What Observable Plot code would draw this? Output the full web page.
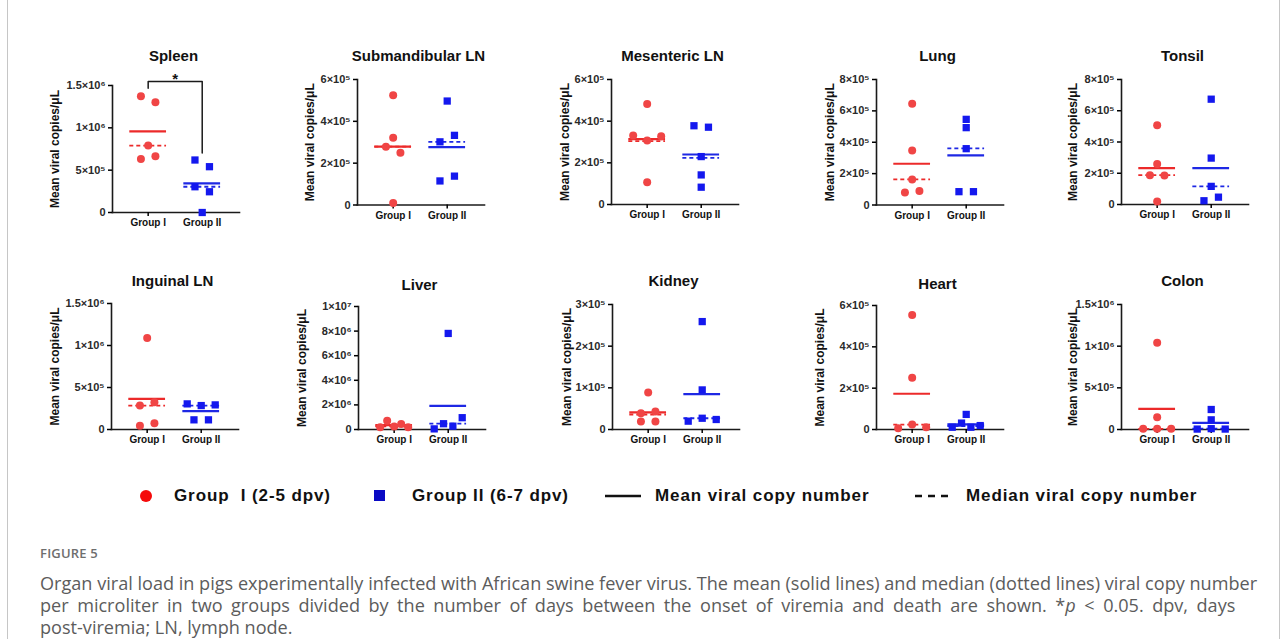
<!DOCTYPE html>
<html><head><meta charset="utf-8">
<script src="https://cdn.jsdelivr.net/npm/d3@7"></script>
<script src="https://cdn.jsdelivr.net/npm/@observablehq/plot@0.6"></script>
<style>
body{margin:0;background:#fff;}
#fig{position:relative;width:1288px;height:639px;overflow:hidden;font-family:"Liberation Sans",Arial,sans-serif;}
.frame{position:absolute;left:7px;top:-20px;width:1273px;height:700px;border:1px solid #c6c6c6;border-radius:6px;box-sizing:border-box;}
.panel{position:absolute;}
.title{position:absolute;transform:translate(-50%,-50%);font-weight:bold;font-size:15px;color:#111;white-space:nowrap;}
.leg{position:absolute;transform:translateY(-50%);font-weight:bold;font-size:17px;letter-spacing:0.9px;color:#111;white-space:pre;}
.sym{position:absolute;}
.cap{position:absolute;left:40px;font-family:"Open Sans",sans-serif;color:#5c5c5c;white-space:nowrap;}
</style></head><body><div id="fig"><div class="frame"></div></div>
<script>
// ---------- DATA ----------
const organs = ["Spleen","Submandibular LN","Mesenteric LN","Lung","Tonsil",
                "Inguinal LN","Liver","Kidney","Heart","Colon"];
const groups = ["Group I","Group II"];
const legendLabels = ["Group  I (2-5 dpv)","Group II (6-7 dpv)","Mean viral copy number","Median viral copy number"];
const yLabel = "Mean viral copies/μL";

// viral copies per μL, one array per organ (order = as plotted)
const groupI = [
  [1.374e6,1.303e6,0.79e6,0.632e6,0.663e6],
  [5.25e5,3.21e5,2.79e5,2.50e5,0.10e5],
  [4.82e5,3.31e5,3.07e5,3.28e5,1.07e5],
  [6.45e5,3.48e5,1.63e5,0.79e5,0.89e5],
  [5.07e5,2.59e5,1.88e5,1.86e5,0.19e5],
  [10.88e5,2.85e5,3.24e5,0.44e5,0.75e5],
  [0.19e6,0.71e6,0.25e6,0.44e6,0.19e6],
  [0.89e5,0.39e5,0.43e5,0.19e5,0.19e5],
  [5.54e5,2.50e5,0.06e5,0.24e5,0.11e5],
  [1.04e6,0.148e6,0.008e6,0.008e6,0.008e6]
];
const groupII = [
  [0.62e6,0.541e6,0.304e6,0.245e6,0],
  [4.97e5,3.02e5,3.33e5,1.15e5,1.38e5],
  [3.78e5,3.71e5,2.30e5,1.42e5,0.83e5],
  [5.46e5,4.93e5,3.59e5,0.85e5,0.85e5],
  [6.74e5,2.97e5,1.16e5,0.24e5,0.47e5],
  [3.05e5,2.85e5,2.93e5,1.15e5,1.15e5],
  [7.81e6,0.05e6,0.47e6,0.27e6,0.96e6],
  [2.59e5,0.95e5,0.20e5,0.27e5,0.24e5],
  [0.73e5,0.11e5,0.31e5,0.11e5,0.19e5],
  [0.24e6,0.116e6,0.005e6,0.01e6,0.005e6]
];
const meanI   = [0.959e6,2.79e5,3.14e5,2.63e5,2.33e5,3.64e5,0.36e6,0.41e5,1.73e5,0.248e6];
const medianI = [0.79e6,2.79e5,3.04e5,1.63e5,1.88e5,2.85e5,0.25e6,0.36e5,0.24e5,0.008e6];
const meanII   = [0.343e6,2.77e5,2.40e5,3.16e5,2.33e5,2.18e5,1.92e6,0.85e5,0.25e5,0.08e6];
const medianII = [0.304e6,3.02e5,2.24e5,3.61e5,1.16e5,2.85e5,0.47e6,0.27e5,0.17e5,0.01e6];

const yTicks = [
  [0,5e5,1e6,1.5e6],[0,2e5,4e5,6e5],[0,2e5,4e5,6e5],[0,2e5,4e5,6e5,8e5],[0,2e5,4e5,6e5,8e5],
  [0,5e5,1e6,1.5e6],[0,2e6,4e6,6e6,8e6,1e7],[0,1e5,2e5,3e5],[0,2e5,4e5,6e5],[0,5e5,1e6,1.5e6]
];
const yTickLabels = [
  ["0","5×10⁵","1×10⁶","1.5×10⁶"],["0","2×10⁵","4×10⁵","6×10⁵"],["0","2×10⁵","4×10⁵","6×10⁵"],
  ["0","2×10⁵","4×10⁵","6×10⁵","8×10⁵"],["0","2×10⁵","4×10⁵","6×10⁵","8×10⁵"],
  ["0","5×10⁵","1×10⁶","1.5×10⁶"],["0","2×10⁶","4×10⁶","6×10⁶","8×10⁶","1×10⁷"],
  ["0","1×10⁵","2×10⁵","3×10⁵"],["0","2×10⁵","4×10⁵","6×10⁵"],["0","5×10⁵","1×10⁶","1.5×10⁶"]
];
// significance annotations
const sigOrgans = ["Spleen"];
const sigLabels = ["*"];

// ---------- LAYOUT (positions only) ----------
const layout = [
  {ax:112, top:85,  bottom:212, lab:57, ty:55},
  {ax:357, top:78.5,bottom:204, lab:47, ty:55},
  {ax:611, top:79,  bottom:204, lab:46, ty:55},
  {ax:876, top:78.5,bottom:204, lab:46, ty:55},
  {ax:1121,top:79,  bottom:204, lab:48, ty:55},
  {ax:111, top:303, bottom:429, lab:56, ty:280},
  {ax:358, top:306, bottom:429, lab:56, ty:284},
  {ax:612, top:304, bottom:429, lab:45, ty:280},
  {ax:876, top:305, bottom:429, lab:56, ty:283},
  {ax:1121,top:304, bottom:429, lab:48, ty:280}
];
const RED_PT = "#f04545", RED_LN = "#ec2a2a", BLUE_PT = "#1418ee", BLUE_LN = "#1e28e4";
const fig = document.getElementById("fig");

// horizontal spreading of overlapping points (scatter-dot style)
function spread(vals, pxPerVal) {
  const idx = d3.range(vals.length).sort((a, b) => vals[b] - vals[a]);
  const clusters = []; let cur = [idx[0]];
  for (let k = 1; k < idx.length; k++) {
    if ((vals[idx[k - 1]] - vals[idx[k]]) * pxPerVal < 7.5) cur.push(idx[k]);
    else { clusters.push(cur); cur = [idx[k]]; }
  }
  clusters.push(cur);
  const offs = new Array(vals.length).fill(0);
  for (const c of clusters) {
    c.sort((a, b) => a - b);
    const n = c.length, sp = n > 1 ? Math.min(14.5, 28 / (n - 1)) : 0;
    c.forEach((j, s) => offs[j] = (s - (n - 1) / 2) * sp);
  }
  return offs;
}

organs.forEach((organ, i) => {
  const L = layout[i];
  const mL = 75, mR = 12, mT = 30, mB = 28;
  const plotW = 127, plotH = L.bottom - L.top;
  const ymax = yTicks[i][yTicks[i].length - 1];
  const pxPerVal = plotH / ymax;
  const xDom = [0.34, 2.69];
  const pxPerUnit = plotW / (xDom[1] - xDom[0]);
  const ptsI = [], ptsII = [];
  [groupI[i], groupII[i]].forEach((vals, g) => {
    const offs = spread(vals, pxPerVal);
    vals.forEach((v, k) => (g ? ptsII : ptsI).push({x: g + 1 + offs[k] / pxPerUnit, v}));
  });
  const hw = 0.34;
  const means = [{g:1, m:meanI[i], c:RED_LN}, {g:2, m:meanII[i], c:BLUE_LN}];
  const medians = [{g:1, m:medianI[i], c:RED_LN}, {g:2, m:medianII[i], c:BLUE_LN}];
  const tickMap = new Map(yTicks[i].map((t, k) => [t, yTickLabels[i][k]]));

  const marks = [
    Plot.frame({anchor: "left", stroke: "#1a1a1a", strokeWidth: 1.6}),
    Plot.frame({anchor: "bottom", stroke: "#1a1a1a", strokeWidth: 1.6}),
    Plot.axisY({ticks: yTicks[i], tickFormat: d => tickMap.get(d), tickSize: 4, tickPadding: 3,
      fontSize: 11, fontWeight: "bold", strokeWidth: 1.5, label: null, fill: "#2a2a2a"}),
    Plot.axisX({ticks: [1, 2], tickFormat: d => groups[d - 1], tickSize: 4, tickPadding: 2.5,
      fontSize: 10, fontWeight: "bold", strokeWidth: 1.5, label: null, fill: "#111"}),
    Plot.text([yLabel], {frameAnchor: "left", dx: -L.lab, rotate: -90, fontSize: 12,
      fontWeight: "bold", fill: "#111", textAnchor: "middle"}),
    Plot.ruleY(medians, {y: "m", x1: d => d.g - hw, x2: d => d.g + hw, stroke: "c", strokeWidth: 1.8, strokeDasharray: "4,3"}),
    Plot.ruleY(means, {y: "m", x1: d => d.g - hw, x2: d => d.g + hw, stroke: "c", strokeWidth: 2.2}),
    Plot.dot(ptsI, {x: "x", y: "v", r: 4, fill: RED_PT, symbol: "circle"}),
    Plot.dot(ptsII, {x: "x", y: "v", r: 4.1, fill: BLUE_PT, symbol: "square"})
  ];

  const si = sigOrgans.indexOf(organ);
  if (si >= 0) {
    const top = ymax + 4 / pxPerVal;
    const legI = d3.max(groupI[i]) + 8 / pxPerVal;
    const legII = d3.max(groupII[i]) + 7 / pxPerVal;
    const bracket = [{x: 1, y: legI}, {x: 1, y: top}, {x: 2, y: top}, {x: 2, y: legII}];
    marks.push(Plot.line(bracket, {x: "x", y: "y", stroke: "#1a1a1a", strokeWidth: 1.5}));
    marks.push(Plot.text([{x: 1.5, y: top, t: sigLabels[si]}], {x: "x", y: "y", text: "t",
      lineAnchor: "bottom", dy: 2, fontSize: 15, fontWeight: "bold", fill: "#111"}));
  }

  const chart = Plot.plot({
    width: mL + plotW + mR, height: mT + plotH + mB,
    marginLeft: mL, marginRight: mR, marginTop: mT, marginBottom: mB,
    x: {domain: xDom},
    y: {domain: [0, ymax]},
    style: {fontFamily: "Liberation Sans, Arial, sans-serif", overflow: "visible", background: "transparent"},
    marks
  });
  chart.classList.add("panel");
  chart.style.left = (L.ax - mL) + "px";
  chart.style.top = (L.top - mT) + "px";
  fig.appendChild(chart);

  const t = document.createElement("div");
  t.className = "title";
  t.textContent = organ;
  t.style.left = (L.ax + plotW / 2 - 2) + "px";
  t.style.top = L.ty + "px";
  fig.appendChild(t);
});

// ---------- LEGEND ----------
function add(html) { fig.insertAdjacentHTML("beforeend", html); }
const LY = 496;
add(`<div class="sym" style="left:140px;top:${LY-6}px;width:12px;height:12px;border-radius:50%;background:#f50a0a"></div>`);
add(`<div class="leg" style="left:174px;top:${LY}px">${legendLabels[0]}</div>`);
add(`<div class="sym" style="left:374px;top:${LY-6}px;width:11px;height:11px;background:#0a0ac4"></div>`);
add(`<div class="leg" style="left:412px;top:${LY}px">${legendLabels[1]}</div>`);
add(`<svg class="sym" style="left:605px;top:${LY-3}px" width="36" height="6"><line x1="0" x2="36" y1="3" y2="3" stroke="#111" stroke-width="2.5"/></svg>`);
add(`<div class="leg" style="left:655px;top:${LY}px">${legendLabels[2]}</div>`);
add(`<svg class="sym" style="left:915px;top:${LY-3}px" width="36" height="6"><line x1="0" x2="34" y1="3" y2="3" stroke="#111" stroke-width="2.5" stroke-dasharray="7,6"/></svg>`);
add(`<div class="leg" style="left:966px;top:${LY}px">${legendLabels[3]}</div>`);

// ---------- CAPTION ----------
add(`<div class="cap" style="top:544px;font-size:13px;font-weight:600;color:#6e6e6e;letter-spacing:0.2px">FIGURE 5</div>`);
add(`<div class="cap" style="top:572px;font-size:18.1px;line-height:22px">Organ viral load in pigs experimentally infected with African swine fever virus. The mean (solid lines) and median (dotted lines) viral copy number<br><span style="word-spacing:3.8px">per microliter in two groups divided by the number of days between the onset of viremia and death are shown. *<i>p</i> &lt; 0.05. dpv, days</span><br>post-viremia; LN, lymph node.</div>`);
</script></body></html>
